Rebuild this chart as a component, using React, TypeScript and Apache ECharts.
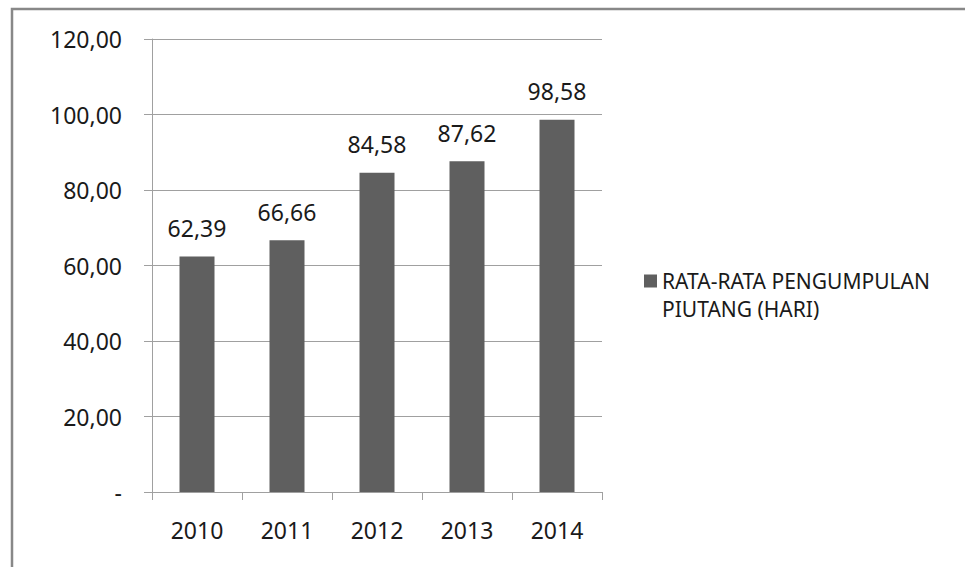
import React, { useEffect, useRef } from "react";
import * as echarts from "echarts";

const categories = ["2010", "2011", "2012", "2013", "2014"];
const values = [62.39, 66.66, 84.58, 87.62, 98.58];
const seriesName = "RATA-RATA PENGUMPULAN PIUTANG (HARI)";
const legendLines = ["", "RATA-RATA PENGUMPULAN", "PIUTANG (HARI)"];

const fmt = (v: number) => v.toFixed(2).replace(".", ",");

export default function App() {
  const ref = useRef<HTMLDivElement>(null);
  useEffect(() => {
    if (!ref.current) return;
    const chart = echarts.init(ref.current, null, { renderer: "svg" });
    const font = "'Noto Sans', sans-serif";
    chart.setOption({
      animation: false,
      backgroundColor: "#ffffff",
      graphic: [
        {
          type: "rect",
          shape: { x: 12, y: 9, width: 1100, height: 800 },
          style: { fill: "none", stroke: "#888888", lineWidth: 2.5 },
          silent: true,
        },
      ],
      grid: { left: 152, right: 363, top: 39, bottom: 75 },
      legend: {
        left: 639,
        top: 234,
        icon: "rect",
        itemWidth: 13,
        itemHeight: 13,
        data: [seriesName],
        formatter: () => legendLines.join("\n"),
        textStyle: {
          fontFamily: font,
          fontSize: 21,
          color: "#1a1a1a",
          lineHeight: 28,
        },
      },
      xAxis: {
        type: "category",
        data: categories,
        axisLine: { show: true, lineStyle: { color: "#a0a0a0", width: 1 } },
        axisTick: { show: true, length: 8, alignWithLabel: false, lineStyle: { color: "#a0a0a0" } },
        axisLabel: { margin: 26, fontFamily: font, fontSize: 23, color: "#1a1a1a" },
        splitLine: { show: false },
      },
      yAxis: {
        type: "value",
        min: 0,
        max: 120,
        interval: 20,
        axisLine: { show: true, lineStyle: { color: "#a0a0a0", width: 1 } },
        axisTick: { show: true, length: 8, lineStyle: { color: "#a0a0a0" } },
        axisLabel: {
          margin: 30,
          fontFamily: font,
          fontSize: 23,
          color: "#1a1a1a",
          formatter: (v: number) => (v === 0 ? "-" : fmt(v)),
        },
        splitLine: { show: true, lineStyle: { color: "#a0a0a0", width: 1 } },
      },
      series: [
        {
          name: seriesName,
          type: "bar",
          data: values,
          barWidth: 35,
          itemStyle: { color: "#5f5f5f" },
          label: {
            show: true,
            position: "top",
            distance: 17,
            fontFamily: font,
            fontSize: 23,
            color: "#1a1a1a",
            formatter: (p: any) => fmt(p.value),
          },
        },
      ],
    });
    return () => chart.dispose();
  }, []);
  return (
    <div
      ref={ref}
      style={{ position: "absolute", left: 0, top: 0, width: 965, height: 567 }}
    />
  );
}
